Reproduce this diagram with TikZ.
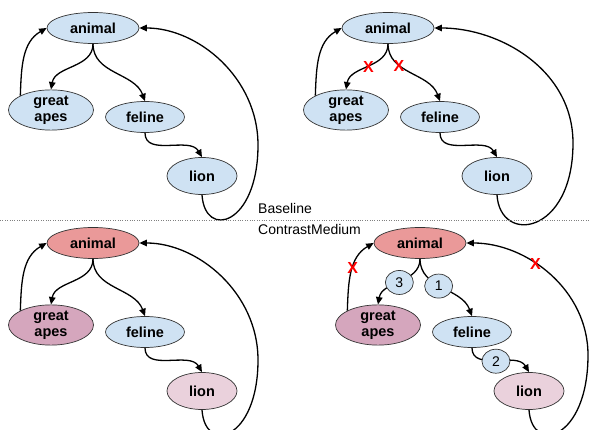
\documentclass[tikz,border=0pt]{standalone}
\usepackage{fontspec}
\setmainfont{Liberation Sans}
\usetikzlibrary{shapes.geometric, arrows.meta}

\definecolor{paleblue}{HTML}{CFE2F3}
\definecolor{palered}{HTML}{EA9999}
\definecolor{palemauve}{HTML}{D5A6BD}
\definecolor{palepink}{HTML}{EAD1DC}

\begin{document}
\begin{tikzpicture}[
    x=1pt, y=-1pt,
    concept/.style={ellipse, draw=black!80, line width=0.7pt, fill=paleblue, inner sep=0pt, align=center, font=\bfseries\fontsize{14.5}{16}\selectfont},
    animalnode/.style={concept, minimum width=92pt, minimum height=31pt},
    apesnode/.style={concept, minimum width=85pt, minimum height=36pt},
    felinenode/.style={concept, minimum width=79pt, minimum height=31pt},
    lionnode/.style={concept, minimum width=70pt, minimum height=37pt},
    order/.style={ellipse, draw=black!80, line width=0.7pt, fill=paleblue, minimum width=28pt, minimum height=24pt, inner sep=0pt, font=\fontsize{14}{16}\selectfont},
    cut/.style={text=red, inner sep=0pt, font=\bfseries\fontsize{16}{18}\selectfont},
    link/.style={draw, line width=1.3pt, -{Triangle[length=7.5pt, width=6.5pt]}},
    caption/.style={anchor=base west, inner sep=0pt, font=\fontsize{14}{16}\selectfont}
]
\clip (0,0) rectangle (590,430);

% --- Baseline, ohne Eingriff ---
\begin{scope}
\node[animalnode] (An1) at (93,28) {animal};
\node[apesnode] (Ap1) at (51,110) {great\\apes};
\node[felinenode] (Fe1) at (145,117) {feline};
\node[lionnode] (Li1) at (202,176) {lion};
\draw[link] (An1.south) to[out=-90, in=80] (Ap1.north);
\draw[link] (An1.south) to[out=-90, in=110] (Fe1.north);
\draw[link] (Ap1.155) to[out=88, in=210] (An1.west);
\draw[link] (Fe1.south) to[out=-90, in=120] (Li1.north);
\draw[link] (Li1.south) .. controls (205,240) and (258,225) .. (258,145)
    .. controls (258,78) and (198,28) .. (An1.east);
\end{scope}

% --- Baseline, geschnittene Kanten ---
\begin{scope}[shift={(295,0)}]
\node[animalnode] (An2) at (93,28) {animal};
\node[apesnode] (Ap2) at (51,110) {great\\apes};
\node[felinenode] (Fe2) at (145,117) {feline};
\node[lionnode] (Li2) at (202,176) {lion};
\draw[link] (An2.south) to[out=-90, in=80] node[cut, pos=0.5] {X} (Ap2.north);
\draw[link] (An2.south) to[out=-90, in=110] node[cut, pos=0.33] {X} (Fe2.north);
\draw[link] (Ap2.155) to[out=88, in=210] (An2.west);
\draw[link] (Fe2.south) to[out=-90, in=120] (Li2.north);
\draw[link] (Li2.south) .. controls (205,245) and (278,235) .. (278,143)
    .. controls (278,70) and (205,28) .. (An2.east);
\end{scope}

% --- Trennlinie ---
\draw[gray, dotted] (0,220) -- (590,220);
\node[caption] (base) at (258,214) {Baseline};
\node[caption] (contrast) at (258,235) {ContrastMedium};

% --- ContrastMedium ---
\begin{scope}[shift={(0,215)}]
\node[animalnode, fill=palered] (An3) at (93,28) {animal};
\node[apesnode, fill=palemauve] (Ap3) at (51,110) {great\\apes};
\node[felinenode] (Fe3) at (145,117) {feline};
\node[lionnode, fill=palepink] (Li3) at (202,176) {lion};
\draw[link] (An3.south) to[out=-90, in=80] (Ap3.north);
\draw[link] (An3.south) to[out=-90, in=110] (Fe3.north);
\draw[link] (Ap3.155) to[out=88, in=210] (An3.west);
\draw[link] (Fe3.south) to[out=-90, in=120] (Li3.north);
\draw[link] (Li3.south) .. controls (205,240) and (258,225) .. (258,145)
    .. controls (258,78) and (198,28) .. (An3.east);
\end{scope}

% --- ContrastMedium, Reihenfolge ---
\begin{scope}[shift={(327,215)}]
\node[animalnode, fill=palered] (An4) at (93,28) {animal};
\node[apesnode, fill=palemauve] (Ap4) at (51,110) {great\\apes};
\node[felinenode] (Fe4) at (145,117) {feline};
\node[lionnode, fill=palepink] (Li4) at (202,176) {lion};
\draw[link] (An4.south) to[out=-90, in=80] node[order, pos=0.52] {3} (Ap4.north);
\draw[link] (An4.south) to[out=-90, in=110] node[order, pos=0.45] {1} (Fe4.north);
\draw[link] (Ap4.155) to[out=88, in=210] node[cut, pos=0.55] {X} (An4.west);
\draw[link] (Fe4.south) to[out=-90, in=120] node[order] {2} (Li4.north);
\draw[link] (Li4.south) .. controls (205,240) and (261,225) .. (261,140)
    .. controls (261,75) and (200,28) .. node[cut, pos=0.6] {X} (An4.east);
\end{scope}
\end{tikzpicture}
\end{document}
